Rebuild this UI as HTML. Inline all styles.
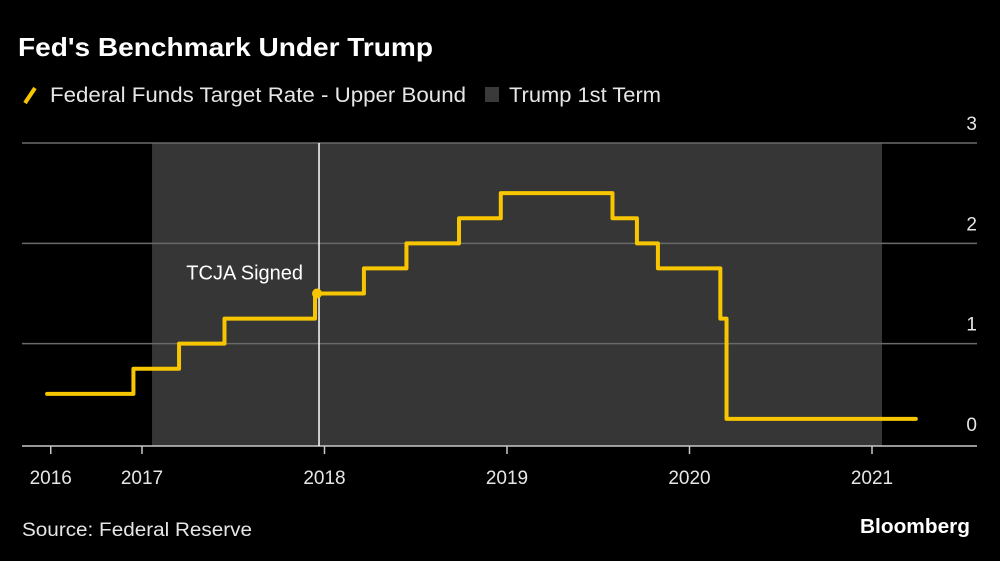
<!DOCTYPE html>
<html><head><meta charset="utf-8"><style>
body{margin:0;background:#000;}
svg{display:block;font-family:"Liberation Sans",Arial,sans-serif;}
</style></head><body>
<svg id="chart" width="1000" height="561" viewBox="0 0 1000 561">
<rect width="1000" height="561" fill="#000"/>
<text x="18" y="56" fill="#fff" font-size="26" font-weight="bold" textLength="415" lengthAdjust="spacingAndGlyphs">Fed's Benchmark Under Trump</text>
<g>
<line x1="25" y1="103" x2="35" y2="88" stroke="#f7c600" stroke-width="4"/>
<text x="50" y="102" fill="#e6e6e6" font-size="21" textLength="416" lengthAdjust="spacingAndGlyphs">Federal Funds Target Rate - Upper Bound</text>
<rect x="485" y="87" width="14" height="15" fill="#3a3a3a"/>
<text x="509" y="102" fill="#e6e6e6" font-size="21" textLength="152" lengthAdjust="spacingAndGlyphs">Trump 1st Term</text>
</g>
<g id="plot"></g>
<text x="22" y="536" fill="#e6e6e6" font-size="19" textLength="230" lengthAdjust="spacingAndGlyphs">Source: Federal Reserve</text>
<text x="970" y="533" fill="#fff" font-size="20" font-weight="bold" text-anchor="end" textLength="110" lengthAdjust="spacingAndGlyphs">Bloomberg</text>
</svg>
<script>
const stepDates=[2016.48,2016.953,2017.203,2017.452,2017.948,2018.216,2018.449,2018.737,2018.966,2019.578,2019.712,2019.827,2020.169,2020.203];
const stepRates=[0.5,0.75,1.0,1.25,1.5,1.75,2.0,2.25,2.5,2.25,2.0,1.75,1.25,0.25];
const endDate=2021.24;
const yTicks=[0,1,2,3];
const xTickDates=[2016.5,2017,2018,2019,2020,2021];
const xTickLabels=["2016","2017","2018","2019","2020","2021"];
const termStart=2017.055, termEnd=2021.055;
const tcjaDate=2017.97, tcjaRate=1.5, tcjaLabel="TCJA Signed";

const NS="http://www.w3.org/2000/svg";
const X=t=>142+(t-2017)*182.5;
const Y=v=>444-v*100.33;
const g=document.getElementById('plot');
function mk(tag,attrs){const e=document.createElementNS(NS,tag);for(const k in attrs)e.setAttribute(k,attrs[k]);g.appendChild(e);return e;}

const term=mk('rect',{x:X(termStart),y:Y(3),width:X(termEnd)-X(termStart),height:446-Y(3),fill:'#363636'});



yTicks.forEach(v=>{
  if(v>0){const l=mk('line',{x1:22,x2:977,y1:Y(v),y2:Y(v),stroke:'#6a6a6a','stroke-width':1.5});
  
  }
  const t=mk('text',{x:977,y:Y(v)-13,fill:'#e6e6e6','font-size':19,'text-anchor':'end'});
  t.textContent=v;
  
  
});

const ax=mk('line',{x1:22,x2:977,y1:446,y2:446,stroke:'#c8c8c8','stroke-width':1.5});


xTickDates.forEach((d,i)=>{
  const tk=mk('line',{x1:X(d),x2:X(d),y1:446,y2:454,stroke:'#c8c8c8','stroke-width':1.5});
  
  
  const t=mk('text',{x:X(d),y:484,fill:'#e6e6e6','font-size':19,'text-anchor':'middle'});
  t.textContent=xTickLabels[i];
  
  
});

const vl=mk('line',{x1:X(tcjaDate),x2:X(tcjaDate),y1:Y(3),y2:446,stroke:'#fff','stroke-width':1.5});



let d='M'+X(stepDates[0])+','+Y(stepRates[0]);
for(let i=1;i<stepDates.length;i++){d+=' H'+X(stepDates[i])+' V'+Y(stepRates[i]);}
d+=' H'+X(endDate);
const line=mk('path',{d:d,fill:'none',stroke:'#f7c600','stroke-width':4,'stroke-linejoin':'round','stroke-linecap':'round'});



const dot=mk('circle',{cx:X(tcjaDate)-2,cy:Y(tcjaRate),r:5,fill:'#f7c600'});


const lab=mk('text',{x:X(tcjaDate)-16,y:Y(tcjaRate)-14,fill:'#fff','font-size':20,'text-anchor':'end'});
lab.textContent=tcjaLabel;


</script>
</body></html>
